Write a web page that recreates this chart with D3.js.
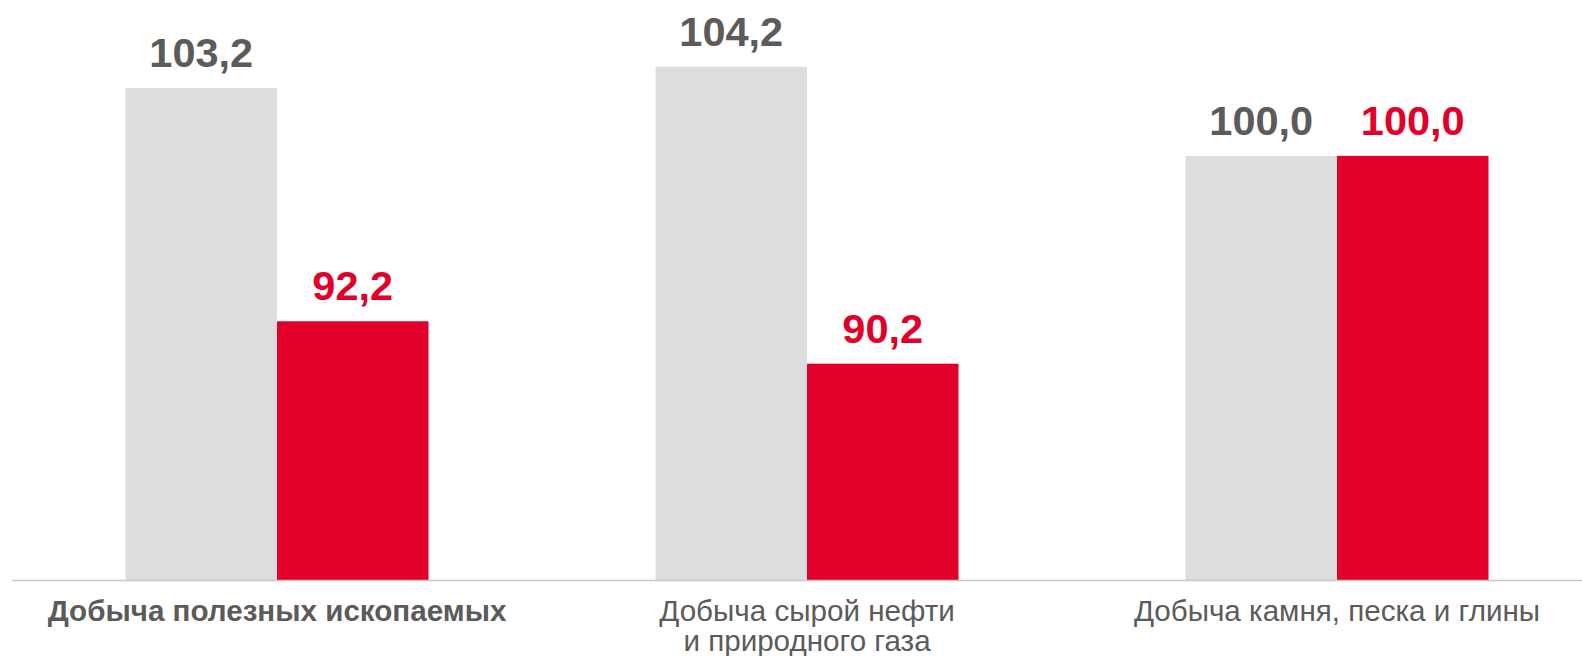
<!DOCTYPE html>
<html>
<head>
<meta charset="utf-8">
<script src="https://cdn.jsdelivr.net/npm/d3@7/dist/d3.min.js"></script>
<style>
  html, body { margin: 0; padding: 0; background: #fff; }
  svg { display: block; font-family: "Liberation Sans", Arial, sans-serif; }
</style>
</head>
<body>
<div id="chart"></div>
<script>
// categories (lines of each label) and the two series
var categories = [
   ["Добыча полезных ископаемых"],
   ["Добыча сырой нефти", "и природного газа"],
   ["Добыча камня, песка и глины"]
];
var boldCategory = [true, false, false];
var seriesPrev = [103.2, 104.2, 100.0];
var seriesCurr = [92.2, 90.2, 100.0];
var seriesNames = ["prev", "curr"];

var width = 1582, height = 656;
var baseY = 580;

var svg = d3.select("#chart")
   .append("svg")
   .attr("width", width)
   .attr("height", height);

var x0 = d3.scaleBand()
   .domain(d3.range(categories.length))
   .range([12, 1602])
   .paddingInner(0)
   .paddingOuter(0);

var groupW = 303;
var x1 = d3.scaleBand()
   .domain(seriesNames)
   .range([-groupW / 2, groupW / 2]);

var y = d3.scaleLinear()
   .domain([80, 107.35])
   .range([baseY, 0]);

var colors = { prev: "#dddddd", curr: "#e2002b" };
var labelColors = { prev: "#5b5b5b", curr: "#e2002b" };

var fmt = function(v) { return d3.format(".1f")(v).replace(".", ","); };

var rows = categories.map(function(c, i) {
   return [
      { key: "prev", i: i, v: seriesPrev[i] },
      { key: "curr", i: i, v: seriesCurr[i] }
   ];
});

var groups = svg.selectAll(".group")
   .data(rows)
   .enter().append("g")
   .attr("class", "group")
   .attr("transform", function(d, i) {
      return "translate(" + (x0(i) + x0.bandwidth() / 2) + ",0)";
   });

groups.selectAll("rect")
   .data(function(d) { return d; })
   .enter().append("rect")
   .attr("x", function(d) { return x1(d.key); })
   .attr("width", x1.bandwidth())
   .attr("y", function(d) { return y(d.v); })
   .attr("height", function(d) { return baseY - y(d.v); })
   .attr("fill", function(d) { return colors[d.key]; });

groups.selectAll(".val")
   .data(function(d) { return d; })
   .enter().append("text")
   .attr("class", "val")
   .attr("x", function(d) { return x1(d.key) + x1.bandwidth() / 2; })
   .attr("y", function(d) { return y(d.v) - 21; })
   .attr("text-anchor", "middle")
   .attr("font-size", "41.5px")
   .attr("font-weight", "bold")
   .attr("fill", function(d) { return labelColors[d.key]; })
   .text(function(d) { return fmt(d.v); });

// baseline
svg.append("line")
   .attr("x1", 12)
   .attr("x2", width)
   .attr("y1", baseY + 0.5)
   .attr("y2", baseY + 0.5)
   .attr("stroke", "#c8c8c8")
   .attr("stroke-width", 1.5);

// category labels
var cat = svg.selectAll(".cat")
   .data(categories)
   .enter().append("text")
   .attr("class", "cat")
   .attr("text-anchor", "middle")
   .attr("font-size", "29.6px")
   .attr("font-weight", function(d, i) { return boldCategory[i] ? "bold" : "normal"; })
   .attr("fill", "#5b5b5b")
   .attr("transform", function(d, i) {
      return "translate(" + (x0(i) + x0.bandwidth() / 2) + ",621)";
   });

cat.selectAll("tspan")
   .data(function(d) { return d; })
   .enter().append("tspan")
   .attr("x", 0)
   .attr("dy", function(d, j) { return j === 0 ? 0 : 29.5; })
   .text(function(d) { return d; });
</script>
</body>
</html>
